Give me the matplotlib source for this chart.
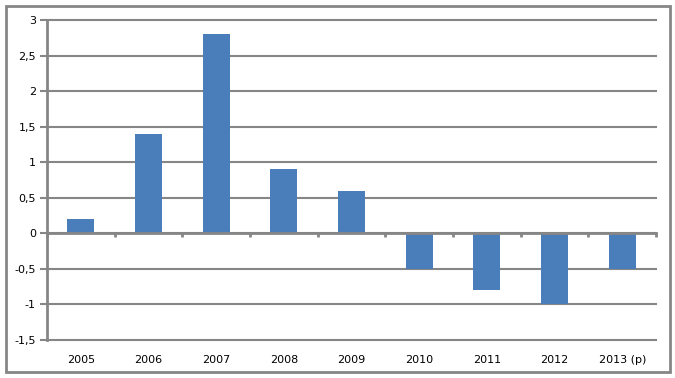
import matplotlib.pyplot as plt
from matplotlib.patches import Rectangle
from matplotlib.ticker import FuncFormatter

years = ["2005", "2006", "2007", "2008", "2009", "2010", "2011", "2012", "2013 (p)"]
values = [0.2, 1.4, 2.8, 0.9, 0.6, -0.5, -0.8, -1.0, -0.5]

grey = "#868686"
fig = plt.figure(figsize=(6.75, 3.78), dpi=100)
fig.patches.append(Rectangle((0.009, 0.016), 0.983, 0.968, transform=fig.transFigure,
                             fill=False, edgecolor=grey, linewidth=2))
ax = fig.add_axes([0.0696, 0.1005, 0.9024, 0.8465])

pos = list(range(len(years)))
ax.bar(pos, values, width=0.4, color="#4a7ebb", zorder=2)
ax.set_xlim(-0.5, len(years) - 0.5)
ax.set_ylim(-1.5, 3)
ax.set_yticks([-1.5, -1, -0.5, 0, 0.5, 1, 1.5, 2, 2.5, 3])
ax.yaxis.set_major_formatter(FuncFormatter(lambda v, p: ("%g" % v).replace(".", ",")))
ax.grid(axis="y", color=grey, linewidth=1.5, zorder=0)
ax.set_axisbelow(True)
# gridlines at the limits would otherwise be cut in half
for gl in ax.get_ygridlines():
    gl.set_clip_on(False)

for s in ["top", "right"]:
    ax.spines[s].set_visible(False)
ax.spines["left"].set_color(grey)
ax.spines["left"].set_linewidth(2)
ax.spines["bottom"].set_position(("data", 0))
ax.spines["bottom"].set_color(grey)
ax.spines["bottom"].set_linewidth(2)
ax.spines["bottom"].set_zorder(3)

ax.set_xticks([p - 0.5 for p in pos] + [len(years) - 0.5])
ax.set_xticklabels([])
ax.tick_params(axis="x", length=3, width=2, color=grey, direction="out")
ax.tick_params(axis="y", length=5, width=1.5, color=grey, labelsize=8, pad=3)

sec = ax.secondary_xaxis("bottom")
sec.set_xticks(pos, years)
sec.spines["bottom"].set_visible(False)
sec.tick_params(length=0, labelsize=8, pad=11)

fig.savefig("out.png", dpi=100)
